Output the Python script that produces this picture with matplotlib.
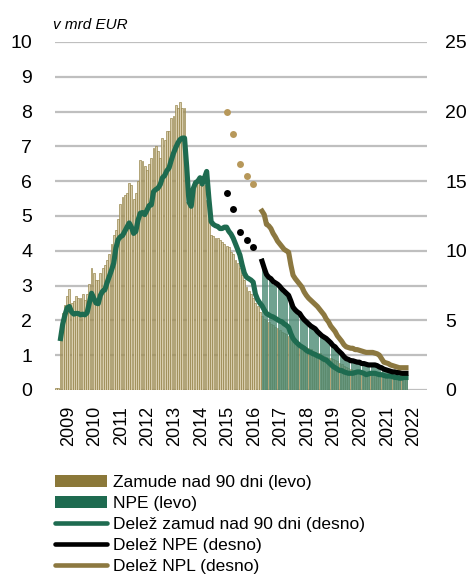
import numpy as np
import pandas as pd
import matplotlib
matplotlib.use('Agg')
import matplotlib.pyplot as plt
from matplotlib.patches import Patch
from matplotlib.lines import Line2D

plt.rcParams['font.family'] = ['Liberation Sans', 'DejaVu Sans']

nan = np.nan

# ---------------- data ----------------
months = pd.period_range('2009-01', '2022-03', freq='M')
year_labels = [str(y) for y in range(2009, 2023)]

# Zamude nad 90 dni (levo), mrd EUR
zamude = [0.05, 0.05,
    1.45, 2.2, 2.45, 2.7, 2.9, 2.5, 2.55, 2.7, 2.65, 2.65, 2.75, 2.6,
    2.75, 3.05, 3.5, 3.35, 3.15, 3.15, 3.35, 3.5, 3.6, 3.75, 3.9, 4.2,
    4.45, 4.6, 4.9, 5.35, 5.55, 5.6, 5.65, 5.95, 5.9, 5.5, 5.65, 6.0,
    6.6, 6.57, 6.43, 6.33, 6.48, 6.67, 6.95, 7.0, 6.86, 6.67, 7.24, 7.19,
    7.43, 7.45, 7.81, 7.88, 8.19, 8.1, 8.29, 8.1, 8.1,
    5.4, 5.5, 5.8, 5.85, 5.9, 5.95, 5.9, 5.85, 5.9, 5.45, 4.9, 4.46,
    4.42, 4.38, 4.36, 4.3, 4.24, 4.2, 4.14, 4.1, 3.97, 3.9, 3.75, 3.64,
    3.5, 3.3, 3.15, 2.95, 2.85, 2.75, 2.65, 2.5, 2.4, 2.25, 2.12, 2.05,
    2.0, 1.95, 1.9, 1.87, 1.82, 1.78, 1.72, 1.68, 1.64, 1.6, 1.55, 1.48,
    1.42, 1.38, 1.35, 1.32, 1.29, 1.26, 1.23, 1.2, 1.17, 1.13, 1.1, 1.07,
    1.05, 1.02, 0.99, 0.96, 0.93, 0.91, 0.88, 0.86, 0.82, 0.78, 0.74, 0.7,
    0.66, 0.63, 0.6, 0.58, 0.56, 0.55, 0.54, 0.52, 0.5, 0.49, 0.48, 0.47,
    0.46, 0.45, 0.44, 0.43, 0.42, 0.41, 0.4, 0.39, 0.38, 0.37, 0.36, 0.36,
    0.35, 0.35, 0.34, 0.34]

# Delez zamud nad 90 dni (desno), %
delez_zamud = [nan, nan,
    3.7, 4.75, 5.4, 5.9, 6.0, 5.6, 5.45, 5.5, 5.5, 5.4, 5.45, 5.4,
    5.55, 6.25, 6.95, 6.6, 6.25, 6.2, 6.8, 7.1, 7.2, 7.7, 8.15, 8.6,
    9.1, 10.2, 10.8, 11.0, 11.1, 11.4, 11.7, 12.0, 11.7, 11.25, 11.4, 12.2,
    12.7, 12.75, 12.6, 12.9, 13.25, 13.3, 14.25, 14.4, 14.5, 14.75, 15.25, 15.4,
    15.75, 15.95, 16.5, 17.0, 17.4, 17.75, 18.0, 18.1, 18.1, 16.0, 13.5, 13.2,
    14.5, 14.9, 15.0, 15.25, 14.8, 15.25, 15.7, 13.75, 12.1, 11.9, 11.8, 11.75,
    11.6, 11.6, 11.7, 11.7, 11.4, 11.2, 10.9, 10.5, 10.1, 9.7, 9.0, 8.4,
    8.1, 8.0, 7.9, 7.75, 6.9, 6.5, 6.25, 6.05, 5.75, 5.5, 5.4, 5.3,
    5.25, 5.15, 5.05, 4.95, 4.9, 4.75, 4.65, 4.5, 4.05, 3.7, 3.5, 3.35,
    3.2, 3.1, 3.0, 2.85, 2.75, 2.7, 2.6, 2.55, 2.45, 2.4, 2.3, 2.2,
    2.15, 2.0, 1.85, 1.7, 1.6, 1.5, 1.4, 1.4, 1.3, 1.25, 1.2, 1.2,
    1.2, 1.25, 1.3, 1.3, 1.25, 1.2, 1.1, 1.15, 1.2, 1.2, 1.2, 1.15,
    1.1, 1.1, 1.05, 1.0, 1.0, 1.0, 0.95, 0.9, 0.9, 0.85, 0.85, 0.9,
    0.9]

npe_months = pd.period_range('2016-10', '2022-03', freq='M')
# NPE (levo), mrd EUR
npe = [3.8, 3.45, 3.25, 3.15, 3.1, 3.03, 2.98, 2.95, 2.88, 2.8,
       2.75, 2.7, 2.62, 2.48, 2.32, 2.24, 2.18, 2.12, 2.04, 1.96,
       1.9, 1.84, 1.8, 1.75, 1.7, 1.63, 1.57, 1.52, 1.47, 1.43,
       1.38, 1.31, 1.25, 1.19, 1.13, 1.07, 1.0, 0.93, 0.88, 0.85,
       0.83, 0.81, 0.8, 0.78, 0.77, 0.75, 0.73, 0.71, 0.71, 0.71,
       0.71, 0.7, 0.68, 0.65, 0.61, 0.58, 0.55, 0.53, 0.51, 0.5,
       0.49, 0.48, 0.48, 0.47, 0.46, 0.46]
# Delez NPE (desno), %
delez_npe = [9.25, 8.75, 8.3, 8.1, 8.0, 7.8, 7.7, 7.6, 7.45, 7.25,
             7.1, 6.95, 6.8, 6.4, 5.95, 5.75, 5.6, 5.5, 5.25, 5.05,
             4.9, 4.75, 4.6, 4.5, 4.4, 4.2, 4.05, 3.9, 3.8, 3.7,
             3.55, 3.4, 3.2, 3.1, 2.9, 2.75, 2.6, 2.4, 2.25, 2.2,
             2.1, 2.1, 2.05, 2.0, 2.0, 1.9, 1.9, 1.85, 1.8, 1.8,
             1.8, 1.8, 1.75, 1.65, 1.6, 1.5, 1.45, 1.4, 1.35, 1.3,
             1.3, 1.25, 1.25, 1.2, 1.2, 1.2]
# Delez NPL (desno), %
delez_npl = [12.85, 12.6, 11.9, 11.8, 11.6, 11.25, 11.0, 10.7, 10.5, 10.3,
             10.1, 10.0, 9.9, 9.0, 8.25, 8.0, 7.8, 7.6, 7.4, 7.05,
             6.8, 6.6, 6.45, 6.3, 6.15, 6.0, 5.8, 5.6, 5.4, 5.1,
             4.9, 4.6, 4.4, 4.2, 3.9, 3.7, 3.5, 3.25, 3.1, 3.05,
             3.0, 3.0, 2.9, 2.9, 2.85, 2.8, 2.75, 2.7, 2.7, 2.7,
             2.7, 2.65, 2.6, 2.5, 2.25, 2.0, 1.95, 1.9, 1.8, 1.75,
             1.7, 1.65, 1.6, 1.6, 1.6, 1.6]

q_months = pd.PeriodIndex(['2015-06', '2015-09', '2015-12', '2016-03', '2016-06'], freq='M')
delez_npe_q = [14.15, 13.0, 11.35, 10.75, 10.3]
delez_npl_q = [20.0, 18.4, 16.25, 15.35, 14.8]

labels = ['Zamude nad 90 dni (levo)', 'NPE (levo)', 'Delež zamud nad 90 dni (desno)',
          'Delež NPE (desno)', 'Delež NPL (desno)']

# ---------------- style ----------------
GOLD_DARK = '#8B7839'
GOLD_LIGHT = '#D8CDAD'
GREEN = '#1E6B50'
GREEN_LIGHT = '#B3D2C6'
GOLD_LINE = '#8C7840'
GOLD_DOT = '#B7985A'
GRID = '#BFBFBF'


def pos(periods):
    return np.array([(p.year - 2009) * 12 + p.month - 1 for p in periods], dtype=float)


x = pos(months)
xn = pos(npe_months)
xq = pos(q_months)
year_pos = [12 * i + 5.5 for i in range(len(year_labels))]

fig = plt.figure(figsize=(4.7, 5.79), dpi=100)
ax = fig.add_axes([55 / 470, 1 - 390 / 579, 372 / 470, 348 / 579])
ax2 = ax.twinx()

ax.set_axisbelow(True)
ax.yaxis.grid(True, color=GRID, lw=1.6)
ax.bar(x, zamude, width=0.85, color=GOLD_LIGHT, edgecolor=GOLD_DARK, linewidth=0.42)
ax.bar(xn + 0.22, npe, width=0.45, color=GREEN_LIGHT, edgecolor=GREEN, linewidth=0.4)

ax2.plot(x, delez_zamud, color=GREEN, lw=3.7, solid_joinstyle='round')
ax2.plot(xn, delez_npe, color='black', lw=3.7, solid_joinstyle='round')
ax2.plot(xn, delez_npl, color=GOLD_LINE, lw=3.7, solid_joinstyle='round')
ax2.plot(xq, delez_npe_q, 'o', color='black', ms=5, mec='none')
ax2.plot(xq, delez_npl_q, 'o', color=GOLD_DOT, ms=5, mec='none')

ax.set_xlim(-0.5, 167.5)
ax.set_ylim(0, 10)
ax2.set_ylim(0, 25)
ax.set_yticks(range(0, 11))
ax2.set_yticks(range(0, 26, 5))
ax.set_xticks(year_pos)
ax.set_xticklabels(year_labels, rotation=90)

for a in (ax, ax2):
    for s in a.spines.values():
        s.set_visible(False)
ax.tick_params(axis='y', length=0, labelsize=14, pad=16.5)
ax2.tick_params(axis='y', length=0, labelsize=14, pad=13)
ax.tick_params(axis='x', length=0, labelsize=13, pad=11.5)

fig.text(53 / 470, 1 - 29 / 579, 'v mrd EUR', style='italic', fontsize=11, va='baseline')

handles = [Patch(facecolor=GOLD_DARK, edgecolor='none'),
           Patch(facecolor=GREEN, edgecolor='none'),
           Line2D([], [], color=GREEN, lw=3.3, solid_capstyle='round'),
           Line2D([], [], color='black', lw=3.3, solid_capstyle='round'),
           Line2D([], [], color=GOLD_LINE, lw=3.3, solid_capstyle='round')]
fig.legend(handles, labels, loc='upper left', bbox_to_anchor=(55 / 470, 1 - 475 / 579),
           frameon=False, fontsize=12.5, handlelength=3.0, handletextpad=0.35,
           labelspacing=0.34, borderpad=0, borderaxespad=0)

fig.savefig('out.png', dpi=100)
